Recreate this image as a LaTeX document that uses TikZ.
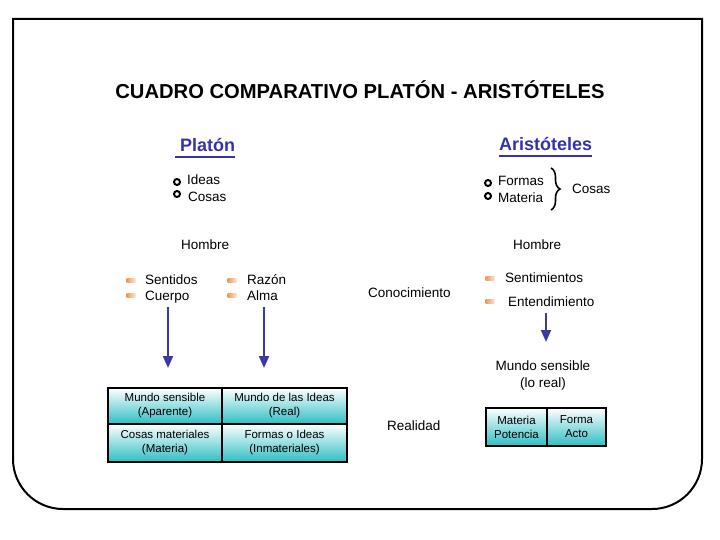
\documentclass[tikz,border=0pt]{standalone}
\usepackage{fontspec}
\setmainfont{Liberation Sans}
\usetikzlibrary{decorations.pathreplacing,arrows.meta}
\definecolor{hblue}{RGB}{51,51,170}
\definecolor{arrblue}{RGB}{58,58,160}
\definecolor{tealc}{RGB}{45,190,195}
\definecolor{orng}{RGB}{240,150,90}
\tikzset{
  txt/.style={font=\fontsize{13.5}{15}\selectfont, inner sep=0, anchor=west, text height=0.7em, text depth=0pt},
  ctxt/.style={font=\fontsize{13.5}{15}\selectfont, inner sep=0, text height=0.7em, text depth=0pt},
  head/.style={font=\bfseries\fontsize{18}{20}\selectfont, text=hblue, inner sep=0, anchor=west, text height=0.7em, text depth=0pt},
  ring/.style={circle, draw=black, line width=2pt, fill=white, minimum size=6pt, inner sep=0},
  obullet/.style={rectangle, inner sep=0, minimum width=9pt, minimum height=4pt, left color=orng, right color=orng!25},
  cell/.style={draw=black, line width=1.5pt, top color=white, bottom color=tealc, inner sep=0, align=center, font=\fontsize{11.5}{14}\selectfont},
  arr/.style={draw=arrblue, line width=2pt, -{Triangle[width=10pt,length=12pt]}},
  uline/.style={draw=hblue, line width=1.3pt},
}
\begin{document}
\begin{tikzpicture}[x=1pt,y=-1pt]
\useasboundingbox (0,0) rectangle (720,540);
% frame
\draw[line width=2pt] (13,19) -- (702,19) -- (702,459) .. controls (702,486.6) and (679.6,509) .. (652,509) -- (63,509) .. controls (35.4,509) and (13,486.6) .. (13,459) -- cycle;
% title
\node[font=\bfseries\fontsize{20.2}{22}\selectfont, inner sep=0, text height=0.7em, text depth=0pt] (title) at (360,95) {CUADRO COMPARATIVO PLATÓN - ARISTÓTELES};
% headers
\node[head] (platon) at (180,148) {Platón};
\draw[uline] (175,157) -- (235,157);
\node[head] (aris) at (499,147) {Aristóteles};
\draw[uline] (499,156) -- (592,156);
% Platon bullets
\node[ring] (b1) at (177,182) {};
\node[ring] (b2) at (177,194) {};
\node[txt] (ideas) at (187,181) {Ideas};
\node[txt] (cosasL) at (188,198) {Cosas};
% Aristoteles bullets
\node[ring] (b3) at (488,183) {};
\node[ring] (b4) at (488,196) {};
\node[txt] (formas) at (498,182) {Formas};
\node[txt] (materia) at (498,199) {Materia};
\coordinate (brtop) at (551,168);
\coordinate (brbot) at (551,210);
\draw[decorate, decoration={brace, amplitude=9pt}, line width=1.6pt] (brtop) -- (brbot);
\node[txt] (cosasR) at (572,190) {Cosas};
% Hombre
\node[txt] (hombreL) at (181,246) {Hombre};
\node[txt] (hombreR) at (513,246) {Hombre};
% left bullets
\node[obullet] (o1) at (131,280) {};
\node[obullet] (o2) at (131,295) {};
\node[txt] (sentidos) at (145,281) {Sentidos};
\node[txt] (cuerpo) at (145,297) {Cuerpo};
\node[obullet] (o3) at (232,280) {};
\node[obullet] (o4) at (232,295) {};
\node[txt] (razon) at (247,281) {Razón};
\node[txt] (alma) at (247,297) {Alma};
% arrows left
\coordinate (a1s) at (168,307);
\coordinate (a1e) at (168,368);
\coordinate (a2s) at (264,307);
\coordinate (a2e) at (264,368);
\draw[arr] (a1s) -- (a1e);
\draw[arr] (a2s) -- (a2e);
% middle
\node[txt] (conoc) at (368,294) {Conocimiento};
\node[txt] (realidad) at (387,427) {Realidad};
% right bullets
\node[obullet] (o5) at (490,278) {};
\node[obullet] (o6) at (490,301) {};
\node[txt] (sentim) at (505,279) {Sentimientos};
\node[txt] (entend) at (508,303) {Entendimiento};
\coordinate (a3s) at (546,313);
\coordinate (a3e) at (546,342);
\draw[arr] (a3s) -- (a3e);
\node[ctxt] (mundoS) at (543,367) {Mundo sensible};
\node[ctxt] (loreal) at (543,384) {(lo real)};
% left table
\node[cell, minimum width=114pt, minimum height=36pt] (c11) at (165,406) {Mundo sensible\\(Aparente)};
\node[cell, minimum width=125pt, minimum height=36pt] (c12) at (284.5,406) {Mundo de las Ideas\\(Real)};
\node[cell, minimum width=114pt, minimum height=38pt] (c21) at (165,443) {Cosas materiales\\(Materia)};
\node[cell, minimum width=125pt, minimum height=38pt] (c22) at (284.5,443) {Formas o Ideas\\(Inmateriales)};
% right table
\node[cell, minimum width=61pt, minimum height=38pt] (r1) at (516.5,427) {Materia\\Potencia};
\node[cell, minimum width=59pt, minimum height=38pt] (r2) at (576.5,427) {Forma\\Acto};
\end{tikzpicture}
\end{document}
